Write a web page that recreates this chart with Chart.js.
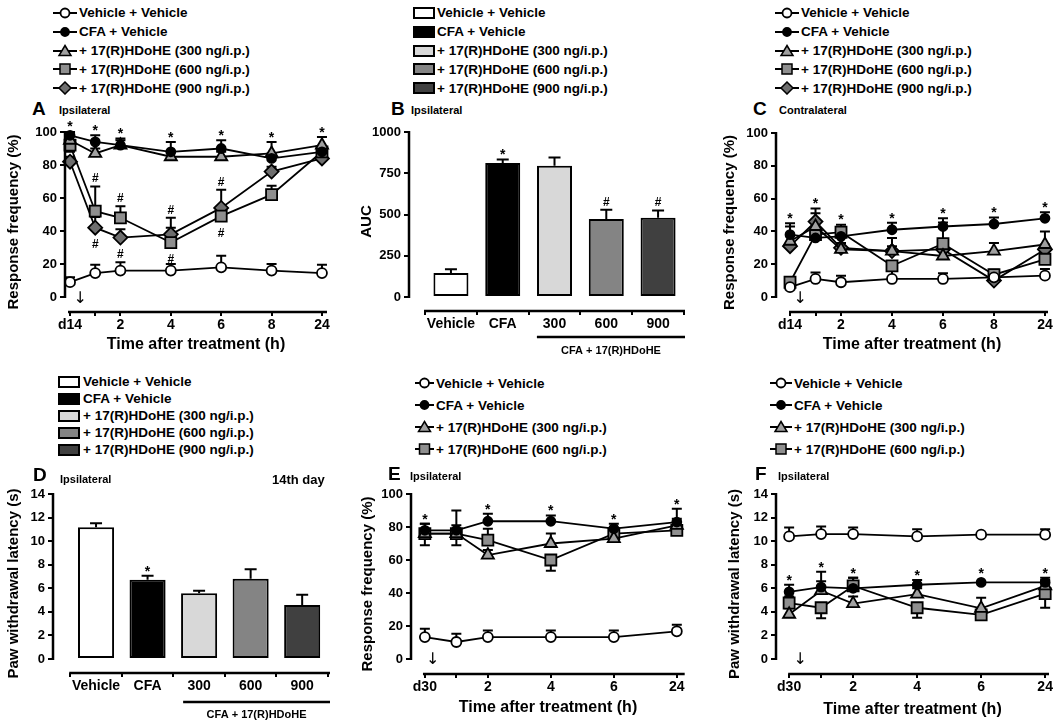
<!DOCTYPE html>
<html>
<head>
<meta charset="utf-8">
<script src="https://cdn.jsdelivr.net/npm/chart.js@4.4.1/dist/chart.umd.min.js"></script>
<style>
  body { margin: 0; background: #fff; }
  #fig { position: relative; width: 1063px; height: 721px; overflow: hidden;
         font-family: 'Liberation Sans', Arial, sans-serif; font-weight: bold; color: #000; }
  canvas { position: absolute; }
  .lbl { position: absolute; white-space: nowrap; line-height: 1; }
  .big { font-size: 19px; }
  .sub { font-size: 11px; }
  .leg { position: absolute; font-size: 13.5px; }
  .leg .row { display: flex; align-items: center; white-space: nowrap; }
  .leg svg { flex: none; }
</style>
</head>
<body>
<div id="fig">
  <canvas id="cA" width="345" height="234" style="left:0;top:120px"></canvas>
  <canvas id="cB" width="345" height="240" style="left:355px;top:120px"></canvas>
  <canvas id="cC" width="348" height="234" style="left:715px;top:120px"></canvas>
  <canvas id="cD" width="345" height="241" style="left:0;top:480px"></canvas>
  <canvas id="cE" width="345" height="237" style="left:355px;top:480px"></canvas>
  <canvas id="cF" width="348" height="239" style="left:715px;top:480px"></canvas>

  <div class="lbl big" style="left:32px;top:99px">A</div>
  <div class="lbl sub" style="left:59px;top:105px">Ipsilateral</div>
  <div class="lbl big" style="left:391px;top:99px">B</div>
  <div class="lbl sub" style="left:411px;top:105px">Ipsilateral</div>
  <div class="lbl big" style="left:753px;top:99px">C</div>
  <div class="lbl sub" style="left:779px;top:105px">Contralateral</div>
  <div class="lbl big" style="left:33px;top:465px">D</div>
  <div class="lbl sub" style="left:60px;top:474px">Ipsilateral</div>
  <div class="lbl" style="left:272px;top:473px;font-size:13px">14th day</div>
  <div class="lbl big" style="left:388px;top:464px">E</div>
  <div class="lbl sub" style="left:410px;top:471px">Ipsilateral</div>
  <div class="lbl big" style="left:755px;top:464px">F</div>
  <div class="lbl sub" style="left:778px;top:471px">Ipsilateral</div>

  <div class="leg" id="legA" style="left:53px;top:3.6px"></div>
  <div class="leg" id="legB" style="left:413px;top:3.6px"></div>
  <div class="leg" id="legC" style="left:775px;top:3.6px"></div>
  <div class="leg" id="legD" style="left:58px;top:373px"></div>
  <div class="leg" id="legE" style="left:415px;top:372px"></div>
  <div class="leg" id="legF" style="left:770px;top:372px"></div>
</div>

<script>
'use strict';

// ---- data --------------------------------------------------------
const groupNames = ['Vehicle + Vehicle', 'CFA + Vehicle', '+ 17(R)HDoHE (300 ng/i.p.)',
  '+ 17(R)HDoHE (600 ng/i.p.)', '+ 17(R)HDoHE (900 ng/i.p.)'];
const barCats = ['Vehicle', 'CFA', '300', '600', '900'];

// A, C: day 14 time course (x positions 0,1,2,4,6,8, 24 h drawn at 10)
const timeX14 = [0, 1, 2, 4, 6, 8, 10];
const timeLbl14 = ['d14', '', '2', '4', '6', '8', '24'];
// E, F: day 30 time course (24 h drawn at 8)
const timeX30 = [0, 1, 2, 4, 6, 8];
const timeLbl30 = ['d30', '', '2', '4', '6', '24'];

// sem: positive = bar drawn above the mean, negative = drawn below
const vehA = [9, 14.5, 16, 16, 18, 16, 14.5];  const vehA_sem = [3, 5, 5, 4, 7, 4, 5];
const cfaA = [98, 94, 92, 88, 90, 84, 88];     const cfaA_sem = [2, 4, 3, 6, 5, 3, 3];
const t300A = [95, 87, 92, 85, 85, 87, 92];    const t300A_sem = [3, 3, 4, 3, 3, 7, 5];
const t600A = [92, 52, 48, 33, 49, 62, 88];    const t600A_sem = [-4, 15, 7, 9, 3, 5.5, 3];
const t900A = [82, 42, 36, 38, 54, 76, 84];    const t900A_sem = [3, 6.5, 5, 10, 11, 3, 3];
const starsA = [0, 1, 2, 3, 4, 5, 6];
const hashA = [1, 2, 3, 4];

const aucB = [146, 812, 795, 473, 480];
const aucB_sem = [22, 22, 50, 56, 45];

const vehC = [6, 11, 9, 11, 11, 12, 13];       const vehC_sem = [0, 4, 4, 5.5, 3.5, 0, 4];
const cfaC = [38, 36, 37, 41, 43, 44.5, 48];   const cfaC_sem = [7, 3, 3, 4.3, 5, 4, 3.6];
const t300C = [34, 43, 29, 28, 25, 28, 32];    const t300C_sem = [9, 8, 2, 8, 3, 5, 8];
const t600C = [9, 38, 39.5, 19, 32.5, 13.6, 23]; const t600C_sem = [2, 3, 4.5, 3, 13, 3, 3];
const t900C = [31, 46, 30, 28, 29, 10, 29];    const t900C_sem = [2, 8, 3, 3, 3, 3, 3];
const starsC = [0, 1, 2, 3, 4, 5, 6];

const latD = [11.17, 6.72, 5.58, 6.80, 4.59];
const latD_sem = [0.35, 0.34, 0.2, 0.82, 0.85];

const vehE = [13.3, 10.3, 13.3, 13.3, 13.3, 16.8]; const vehE_sem = [5, 5, 4, 4, 4, 4];
const cfaE = [78, 78, 83.5, 83.5, 79, 83];          const cfaE_sem = [4, 12, 4.5, 3.5, 3, 8];
const t300E = [76, 76, 63, 70, 73, 81];             const t300E_sem = [6, 5, 3, 6, 2.5, 4];
const t600E = [76, 76, 72, 60, 76, 78];             const t600E_sem = [-7, -7, 7, -6.5, 2, 2];
const starsE = [0, 2, 3, 4, 5];

const vehF = [10.4, 10.6, 10.6, 10.4, 10.55, 10.55]; const vehF_sem = [0.75, 0.65, 0.55, 0.6, 0, 0.45];
const cfaF = [5.7, 6.1, 6.0, 6.3, 6.5, 6.5];         const cfaF_sem = [0.6, 1.3, 0.9, 0.4, 0, 0.4];
const t300F = [3.8, 5.8, 4.7, 5.5, 4.3, 6.2];        const t300F_sem = [0.5, 0.8, 0.6, 0.5, 0.9, 0.5];
const t600F = [4.75, 4.35, 6.2, 4.35, 3.75, 5.55];   const t600F_sem = [0.55, -0.9, 0.7, -0.85, 0.3, -1.2];
const starsF = [0, 1, 2, 3, 4, 5];

// ---- styles --------------------------------------------------------
const FONT = "'Liberation Sans', Arial, sans-serif";
const marker = [
  { point: 'circle',   r: 5,   fill: '#ffffff' },
  { point: 'circle',   r: 4.5, fill: '#000000' },
  { point: 'triangle', r: 7,   fill: '#a0a0a0' },
  { point: 'rect',     r: 7.8, fill: '#8f8f8f' },
  { point: 'rectRot',  r: 7,   fill: '#6e6e6e' }
];
const barFill = ['#ffffff', '#000000', '#d8d8d8', '#848484', '#404040'];

Chart.defaults.font.family = FONT;
Chart.defaults.font.weight = 'bold';
Chart.defaults.color = '#000';

// ---- plugins -------------------------------------------------------
const errorBars = {
  id: 'errorBars',
  beforeDatasetsDraw(chart) {
    const { ctx } = chart;
    const ys = chart.scales.y;
    ctx.save();
    ctx.strokeStyle = '#000';
    ctx.lineWidth = 2;
    chart.data.datasets.forEach((ds, di) => {
      if (!ds.sem) return;
      chart.getDatasetMeta(di).data.forEach((el, i) => {
        const s = ds.sem[i];
        if (!s) return;
        const v = ds.data[i].y;
        const y0 = ys.getPixelForValue(v), y1 = ys.getPixelForValue(v + s);
        const cap = ds.capHalf || 5;
        ctx.beginPath();
        ctx.moveTo(el.x, y0); ctx.lineTo(el.x, y1);
        ctx.moveTo(el.x - cap, y1); ctx.lineTo(el.x + cap, y1);
        ctx.stroke();
      });
    });
    ctx.restore();
  }
};

// axis lines (GraphPad style: y only 0..max, x detached below), marks, arrow, bracket
const decor = {
  id: 'decor',
  afterDraw(chart, args, o) {
    const { ctx, chartArea: ca } = chart;
    const xs = chart.scales.x, ys = chart.scales.y;
    ctx.save();
    ctx.strokeStyle = '#000';
    ctx.lineWidth = 2.5;
    ctx.beginPath();
    ctx.moveTo(ca.left, ys.getPixelForValue(0) + 1);
    ctx.lineTo(ca.left, ys.getPixelForValue(o.yTop) - 1);
    ctx.moveTo(xs.getPixelForValue(o.xFrom), ca.bottom);
    ctx.lineTo(xs.getPixelForValue(o.xTo), ca.bottom);
    ctx.stroke();

    const sets = chart.data.datasets;
    const topAt = (i, group) => Math.min(...group.map(d => {
      const ds = sets[d], v = ds.data[i].y, s = Math.max(ds.sem[i] || 0, 0);
      return Math.min(ys.getPixelForValue(v + s), ys.getPixelForValue(v) - (ds.pointRadius || 0));
    }));
    const bottomAt = (i, group) => Math.max(...group.map(d => {
      const ds = sets[d], v = ds.data[i].y, s = Math.min(ds.sem[i] || 0, 0);
      return Math.max(ys.getPixelForValue(v + s), ys.getPixelForValue(v) + (ds.pointRadius || 0));
    }));
    const xAt = i => xs.getPixelForValue(sets[0].data[i].x);

    ctx.fillStyle = '#000';
    ctx.textAlign = 'center';
    ctx.textBaseline = 'alphabetic';
    (o.marks || []).forEach(m => {
      ctx.font = m.text === '*' ? `bold 14px ${FONT}` : `bold 12px ${FONT}`;
      m.idx.forEach(i => {
        if (m.above) ctx.fillText(m.text, xAt(i), topAt(i, m.group) - (m.text === '*' ? 0 : 4));
        if (m.below) ctx.fillText(m.text, xAt(i), bottomAt(i, m.group) + 13);
      });
    });

    if (o.arrowX !== undefined) {
      ctx.font = `16px 'DejaVu Sans'`;
      ctx.textBaseline = 'bottom';
      ctx.fillText('\u2193', xs.getPixelForValue(o.arrowX), ca.bottom - o.arrowLift);
    }

    if (o.bracket) {
      const b = o.bracket;
      ctx.lineWidth = 2.5;
      ctx.beginPath();
      ctx.moveTo(xs.getPixelForValue(b.from), ca.bottom + b.dy);
      ctx.lineTo(xs.getPixelForValue(b.to), ca.bottom + b.dy);
      ctx.stroke();
      ctx.font = `bold 11px ${FONT}`;
      ctx.textBaseline = 'middle';
      ctx.fillText(b.text, xs.getPixelForValue((b.from + b.to) / 2), ca.bottom + b.textDy);
    }
    ctx.restore();
  }
};

// ---- chart builders ------------------------------------------------
function axes(p) {
  const grid = { display: true, drawOnChartArea: false, drawTicks: true, tickLength: 5,
    lineWidth: 2, color: '#000' };
  return {
    x: {
      type: 'linear', min: p.xMin, max: p.xMax, offset: false,
      afterBuildTicks: sc => { sc.ticks = p.xTicks.map(v => ({ value: v })); },
      ticks: { callback: (v, i) => p.xLabels[i], font: { size: 14 }, padding: 1,
        maxRotation: 0, autoSkip: false },
      grid: { ...grid, tickLength: 4 },
      border: { display: false },
      title: { display: !!p.xTitle, text: p.xTitle || '', font: { size: 16 }, padding: 0 },
      afterFit: sc => { sc.height = p.xH; }
    },
    y: {
      min: p.yMin, max: p.yMax,
      afterBuildTicks: sc => { sc.ticks = p.yTicks.map(v => ({ value: v })); },
      ticks: { font: { size: 13 }, padding: 3, callback: v => String(v) },
      grid,
      border: { display: false },
      title: { display: true, text: p.yTitle, font: { size: 15 }, padding: { top: p.yPad, bottom: 0 } },
      afterFit: sc => { sc.width = p.yW; }
    }
  };
}

function baseOpts(p) {
  return {
    responsive: false, animation: false, events: [],
    layout: { padding: { top: p.padTop, right: p.padRight, left: 0, bottom: 0 } },
    plugins: { legend: { display: false }, tooltip: { enabled: false }, decor: p.decor },
    scales: axes(p)
  };
}

function lineChart(id, p, series) {
  const datasets = series.map((s, k) => ({
    data: p.xTicks.map((x, i) => ({ x, y: s.values[i] })),
    sem: s.sem,
    borderColor: '#000', borderWidth: 1.8,
    pointStyle: marker[k].point, pointRadius: marker[k].r, pointHoverRadius: marker[k].r,
    pointBackgroundColor: marker[k].fill, pointBorderColor: '#000', pointBorderWidth: 1.8,
    tension: 0, clip: false
  }));
  return new Chart(document.getElementById(id), {
    type: 'line', data: { datasets }, options: baseOpts(p), plugins: [errorBars, decor]
  });
}

function barChart(id, p, values, sem) {
  const datasets = [{
    data: p.xTicks.map((x, i) => ({ x, y: values[i] })),
    sem, capHalf: 6,
    backgroundColor: barFill, borderColor: '#000', borderWidth: 2, borderSkipped: false,
    barPercentage: p.barPct, categoryPercentage: 1
  }];
  return new Chart(document.getElementById(id), {
    type: 'bar', data: { datasets }, options: baseOpts(p), plugins: [errorBars, decor]
  });
}

// ---- legends -------------------------------------------------------
function lineIcon(k, w) {
  const c = w / 2, m = marker[k];
  let shape;
  if (m.point === 'circle') shape = `<circle cx="${c}" cy="7" r="${m.r - 0.5}" fill="${m.fill}" stroke="#000" stroke-width="1.8"/>`;
  else if (m.point === 'triangle') shape = `<polygon points="${c},1.5 ${c + 6},11.5 ${c - 6},11.5" fill="${m.fill}" stroke="#000" stroke-width="1.5"/>`;
  else if (m.point === 'rect') shape = `<rect x="${c - 5}" y="2" width="10" height="10" fill="${m.fill}" stroke="#000" stroke-width="1.5"/>`;
  else shape = `<polygon points="${c},1 ${c + 6},7 ${c},13 ${c - 6},7" fill="${m.fill}" stroke="#000" stroke-width="1.5"/>`;
  return `<svg width="${w}" height="14"><line x1="0" y1="7" x2="${w}" y2="7" stroke="#000" stroke-width="2"/>${shape}</svg>`;
}
function boxIcon(k) {
  return `<svg width="22" height="14"><rect x="1" y="2" width="20" height="10" fill="${barFill[k]}" stroke="#000" stroke-width="2"/></svg>`;
}
function legend(id, count, rowH, gap, icon) {
  document.getElementById(id).innerHTML = groupNames.slice(0, count).map((n, k) =>
    `<div class="row" style="height:${rowH}px">${icon(k)}<span style="margin-left:${gap}px">${n}</span></div>`).join('');
}
legend('legA', 5, 18.8, 2, k => lineIcon(k, 24));
legend('legB', 5, 18.8, 2, boxIcon);
legend('legC', 5, 18.8, 2, k => lineIcon(k, 24));
legend('legD', 5, 17, 3, boxIcon);
legend('legE', 4, 22, 2, k => lineIcon(k, 19));
legend('legF', 4, 22, 2, k => lineIcon(k, 22));

// ---- panels --------------------------------------------------------
const all5 = [0, 1, 2, 3, 4];
const treated = [1, 2, 3];

lineChart('cA', {
  padTop: 12, padRight: 18, yW: 65, xH: 42, yPad: 5,
  xMin: -0.2, xMax: 10.2, xTicks: timeX14, xLabels: timeLbl14, xTitle: 'Time after treatment (h)',
  yMin: -9.09, yMax: 100, yTicks: [0, 20, 40, 60, 80, 100], yTitle: 'Response frequency (%)',
  decor: { yTop: 100, xFrom: -0.08, xTo: 10.2, arrowX: 0.4, arrowLift: 5,
    marks: [{ text: '*', idx: starsA, group: all5, above: true },
            { text: '#', idx: hashA, group: [3, 4], above: true, below: true }] }
}, [
  { values: vehA, sem: vehA_sem }, { values: cfaA, sem: cfaA_sem }, { values: t300A, sem: t300A_sem },
  { values: t600A, sem: t600A_sem }, { values: t900A, sem: t900A_sem }
]);

barChart('cB', {
  padTop: 12, padRight: 15, yW: 54, xH: 49, yPad: 3, barPct: 0.676,
  xMin: -0.81, xMax: 4.52, xTicks: [0, 1, 2, 3, 4], xLabels: barCats,
  yMin: -84.8, yMax: 1000, yTicks: [0, 250, 500, 750, 1000], yTitle: 'AUC',
  decor: { yTop: 1000, xFrom: -0.52, xTo: 4.52,
    marks: [{ text: '*', idx: [1], group: [0], above: true }, { text: '#', idx: [3, 4], group: [0], above: true }],
    bracket: { from: 1.66, to: 4.52, dy: 26, textDy: 40, text: 'CFA + 17(R)HDoHE' } }
}, aucB, aucB_sem);

lineChart('cC', {
  padTop: 13, padRight: 15, yW: 61, xH: 42, yPad: 6,
  xMin: -0.55, xMax: 10.12, xTicks: timeX14, xLabels: timeLbl14, xTitle: 'Time after treatment (h)',
  yMin: -9.15, yMax: 100, yTicks: [0, 20, 40, 60, 80, 100], yTitle: 'Response frequency (%)',
  decor: { yTop: 100, xFrom: -0.04, xTo: 10.12, arrowX: 0.4, arrowLift: 5,
    marks: [{ text: '*', idx: starsC, group: all5, above: true }] }
}, [
  { values: vehC, sem: vehC_sem }, { values: cfaC, sem: cfaC_sem }, { values: t300C, sem: t300C_sem },
  { values: t600C, sem: t600C_sem }, { values: t900C, sem: t900C_sem }
]);

barChart('cD', {
  padTop: 14, padRight: 15, yW: 53, xH: 48, yPad: 5, barPct: 0.7,
  xMin: -0.835, xMax: 4.54, xTicks: [0, 1, 2, 3, 4], xLabels: barCats,
  yMin: -1.19, yMax: 14, yTicks: [0, 2, 4, 6, 8, 10, 12, 14], yTitle: 'Paw withdrawal latency (s)',
  decor: { yTop: 14, xFrom: -0.52, xTo: 4.54,
    marks: [{ text: '*', idx: [1], group: [0], above: true }],
    bracket: { from: 1.69, to: 4.54, dy: 29, textDy: 42, text: 'CFA + 17(R)HDoHE' } }
}, latD, latD_sem);

lineChart('cE', {
  padTop: 14, padRight: 15, yW: 56, xH: 43, yPad: 3.5,
  xMin: -0.44, xMax: 8.26, xTicks: timeX30, xLabels: timeLbl30, xTitle: 'Time after treatment (h)',
  yMin: -9.09, yMax: 100, yTicks: [0, 20, 40, 60, 80, 100], yTitle: 'Response frequency (%)',
  decor: { yTop: 100, xFrom: -0.06, xTo: 8.25, arrowX: 0.25, arrowLift: 6,
    marks: [{ text: '*', idx: starsE, group: treated, above: true }] }
}, [
  { values: vehE, sem: vehE_sem }, { values: cfaE, sem: cfaE_sem }, { values: t300E, sem: t300E_sem },
  { values: t600E, sem: t600E_sem }
]);

lineChart('cF', {
  padTop: 14, padRight: 14, yW: 61, xH: 45, yPad: 11,
  xMin: -0.41, xMax: 8.12, xTicks: timeX30, xLabels: timeLbl30, xTitle: 'Time after treatment (h)',
  yMin: -1.27, yMax: 14, yTicks: [0, 2, 4, 6, 8, 10, 12, 14], yTitle: 'Paw withdrawal latency (s)',
  decor: { yTop: 14, xFrom: -0.03, xTo: 8.12, arrowX: 0.35, arrowLift: 6,
    marks: [{ text: '*', idx: starsF, group: treated, above: true }] }
}, [
  { values: vehF, sem: vehF_sem }, { values: cfaF, sem: cfaF_sem }, { values: t300F, sem: t300F_sem },
  { values: t600F, sem: t600F_sem }
]);
</script>
</body>
</html>
